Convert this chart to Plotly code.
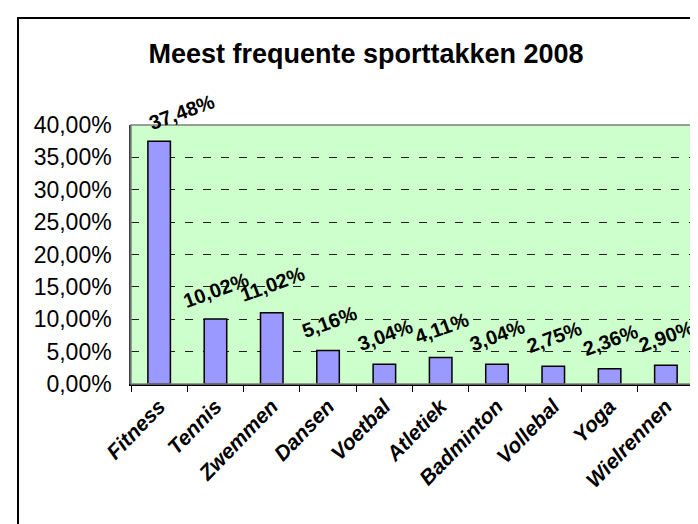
import plotly.graph_objects as go

categories = ["Fitness", "Tennis", "Zwemmen", "Dansen", "Voetbal", "Atletiek",
              "Badminton", "Vollebal", "Yoga", "Wielrennen"]
values_pct = [37.48, 10.02, 11.02, 5.16, 3.04, 4.11, 3.04, 2.75, 2.36, 2.90]
y_ticks_pct = [0, 5, 10, 15, 20, 25, 30, 35, 40]
title_text = "Meest frequente sporttakken 2008"

W, H = 698, 524
L, R, T, B = 123, 6, 117, 148
pw, ph = W - L - R, H - T - B
FONT = "Liberation Sans, Arial, sans-serif"

fig = go.Figure()
fig.add_trace(go.Bar(
    x=categories,
    y=[v / 100 for v in values_pct],
    width=0.4,
    marker=dict(color="#9999FF", line=dict(color="black", width=1.5)),
    hoverinfo="skip",
))

label_font = dict(family=FONT, size=20, color="black", weight="bold")
for i, (c, v) in enumerate(zip(categories, values_pct)):
    txt = f"{v:.2f}%".replace(".", ",")
    fig.add_annotation(
        x=c, y=v / 100, text=txt, showarrow=False, textangle=-20,
        font=label_font, yshift=29, xshift=23 if i == 0 else 1,
    )

def px_x(p):
    return (p - L) / pw

def px_y(p):
    return (H - B - p) / ph

# outer chart frame (extends past right and bottom edges)
fig.add_shape(type="rect", xref="paper", yref="paper",
              x0=px_x(10), x1=px_x(760), y0=px_y(10), y1=px_y(600),
              line=dict(color="black", width=2), fillcolor="rgba(0,0,0,0)", layer="below")
# plot-area border
fig.add_shape(type="rect", xref="paper", yref="paper", x0=0, x1=1, y0=0, y1=1,
              line=dict(color="#808080", width=1.5), fillcolor="rgba(0,0,0,0)", layer="above")

fig.update_layout(
    width=W, height=H,
    margin=dict(l=L, r=R, t=T, b=B, autoexpand=False),
    paper_bgcolor="white",
    plot_bgcolor="#CCFFCC",
    separators=",.",
    showlegend=False,
    title=dict(text=title_text, x=358 / W, xref="container", xanchor="center",
               y=1 - 46 / H, yref="container", yanchor="middle",
               font=dict(family=FONT, size=27, color="black", weight="bold")),
    font=dict(family=FONT, color="black"),
)
fig.update_yaxes(
    range=[0, 0.40], tickvals=[t / 100 for t in y_ticks_pct], tickformat=".2%",
    showgrid=True, gridcolor="#202020", griddash="8px,10px", gridwidth=1,
    showline=True, linecolor="#404040", linewidth=1.5,
    ticks="outside", ticklen=13, tickcolor="rgba(0,0,0,0)",
    tickfont=dict(size=23, color="black"), zeroline=False,
)
fig.update_xaxes(
    showline=True, linecolor="black", linewidth=1.5,
    ticks="outside", ticklen=6, tickcolor="black", tickson="boundaries",
    tickangle=-46,
    tickfont=dict(size=21, color="black", weight="bold", style="italic"),
)

fig.write_html("out.html")
